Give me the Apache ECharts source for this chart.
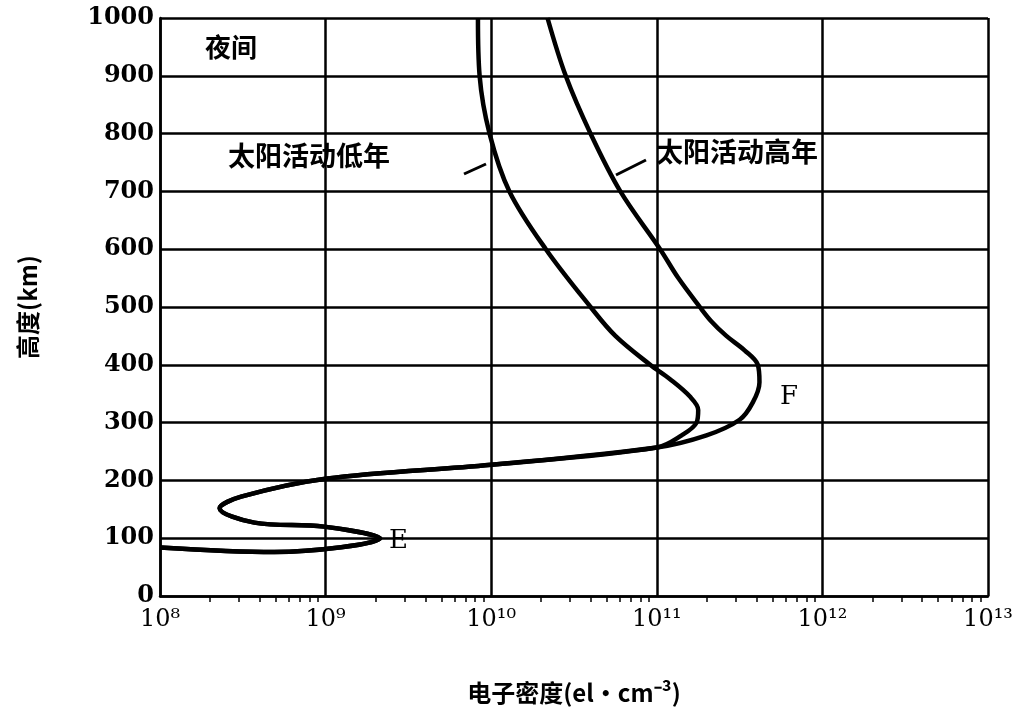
<!DOCTYPE html>
<html><head><meta charset="utf-8">
<script src="https://cdn.jsdelivr.net/npm/echarts@6/dist/echarts.min.js"></script>
<style>html,body{margin:0;background:#fff}#chart{width:1023px;height:718px}</style>
</head><body><div id="chart"></div>
<script>
var chart = echarts.init(document.getElementById('chart'));

// log10 of electron density, and altitude in km
var sharedLog = [8.0, 8.69, 9.33, 8.99, 8.57, 8.36, 8.49, 9.0, 10.0, 11.0];
var sharedAlt = [84, 76, 100, 120, 127, 152, 172, 203, 227, 257];
var lowLog = [11.15, 11.24, 11.25, 11.2, 11.08, 10.96, 10.75, 10.6, 10.33, 10.11, 9.99, 9.93, 9.92];
var lowAlt = [278, 300, 322, 345, 375, 400, 450, 500, 600, 700, 800, 900, 1000];
var highLog = [11.3, 11.5, 11.58, 11.62, 11.61, 11.53, 11.42, 11.33, 11.26, 11.13, 11.02, 10.78, 10.6, 10.45, 10.34];
var highAlt = [278, 305, 335, 370, 400, 425, 450, 475, 500, 550, 600, 700, 800, 900, 1000];
var sup = {8: '⁸', 9: '⁹', 10: '¹⁰', 11: '¹¹', 12: '¹²', 13: '¹³'};

function pts(lg, alt) {
  var out = [];
  for (var i = 0; i < lg.length; i++) out.push([Math.pow(10, lg[i]), alt[i]]);
  return out;
}
var low = pts(sharedLog, sharedAlt).concat(pts(lowLog, lowAlt));
var high = pts(sharedLog, sharedAlt).concat(pts(highLog, highAlt));

var font = 'DejaVu Serif';
var lineStyle = {color: '#000', width: 4.5};

var option = {
  animation: false,
  backgroundColor: '#fff',
  grid: {left: 160, right: 35, top: 18, bottom: 122},
  xAxis: {
    type: 'log', min: 1e8, max: 1e13, logBase: 10,
    axisLine: {lineStyle: {color: '#000', width: 2.5}},
    axisTick: {show: false},
    minorTick: {show: true, splitNumber: 9, length: 6, lineStyle: {color: '#000', width: 1.5}},
    splitLine: {show: true, lineStyle: {color: '#000', width: 2.5}},
    axisLabel: {
      margin: 12, color: '#000', fontFamily: font, fontSize: 24,
      formatter: function (v) { var e = Math.round(Math.log10(v)); return '10' + sup[e]; }
    },
    name: '电子密度(el・cm⁻³)', nameLocation: 'middle', nameGap: 85,
    nameTextStyle: {color: '#000', fontSize: 24, fontFamily: 'Noto Sans CJK SC', fontWeight: 'bold'}
  },
  yAxis: {
    type: 'value', min: 0, max: 1000, interval: 100,
    axisLine: {lineStyle: {color: '#000', width: 2.5}},
    axisTick: {show: false},
    splitLine: {show: true, lineStyle: {color: '#000', width: 2.5}},
    axisLabel: {color: '#000', fontFamily: font, fontSize: 24, fontWeight: 'bold', margin: 6,
      formatter: function (v) { return String(v); }},
    name: '高度(km)', nameLocation: 'middle', nameGap: 120,
    nameTextStyle: {color: '#000', fontSize: 24, fontFamily: 'Noto Sans CJK SC', fontWeight: 'bold'}
  },
  series: [
    {type: 'line', data: low, smooth: 0.35, showSymbol: false, lineStyle: lineStyle},
    {type: 'line', data: high, smooth: 0.35, showSymbol: false, lineStyle: lineStyle}
  ],
  graphic: [
    {type: 'rect', shape: {x: 195, y: 30, width: 95, height: 42}, style: {fill: '#fff'}},
    {type: 'text', left: 205, top: 34, style: {text: '夜间', font: 'bold 26px "Noto Sans CJK SC"', fill: '#000'}},
    {type: 'rect', shape: {x: 222, y: 140, width: 240, height: 44}, style: {fill: '#fff'}},
    {type: 'text', left: 228, top: 142, style: {text: '太阳活动低年', font: 'bold 27px "Noto Sans CJK SC"', fill: '#000'}},
    {type: 'line', shape: {x1: 464, y1: 174, x2: 486, y2: 164}, style: {stroke: '#000', lineWidth: 3}},
    {type: 'rect', shape: {x: 652, y: 136, width: 230, height: 44}, style: {fill: '#fff'}},
    {type: 'text', left: 656, top: 138, style: {text: '太阳活动高年', font: 'bold 27px "Noto Sans CJK SC"', fill: '#000'}},
    {type: 'line', shape: {x1: 616, y1: 175, x2: 646, y2: 160}, style: {stroke: '#000', lineWidth: 3}},
    {type: 'rect', shape: {x: 778, y: 383, width: 28, height: 32}, style: {fill: '#fff'}},
    {type: 'text', left: 780, top: 384, style: {text: 'F', font: '26px "DejaVu Serif"', fill: '#000'}},
    {type: 'rect', shape: {x: 386, y: 526, width: 30, height: 34}, style: {fill: '#fff'}},
    {type: 'text', left: 389, top: 528, style: {text: 'E', font: '26px "DejaVu Serif"', fill: '#000'}}
  ]
};
chart.setOption(option);
</script></body></html>
